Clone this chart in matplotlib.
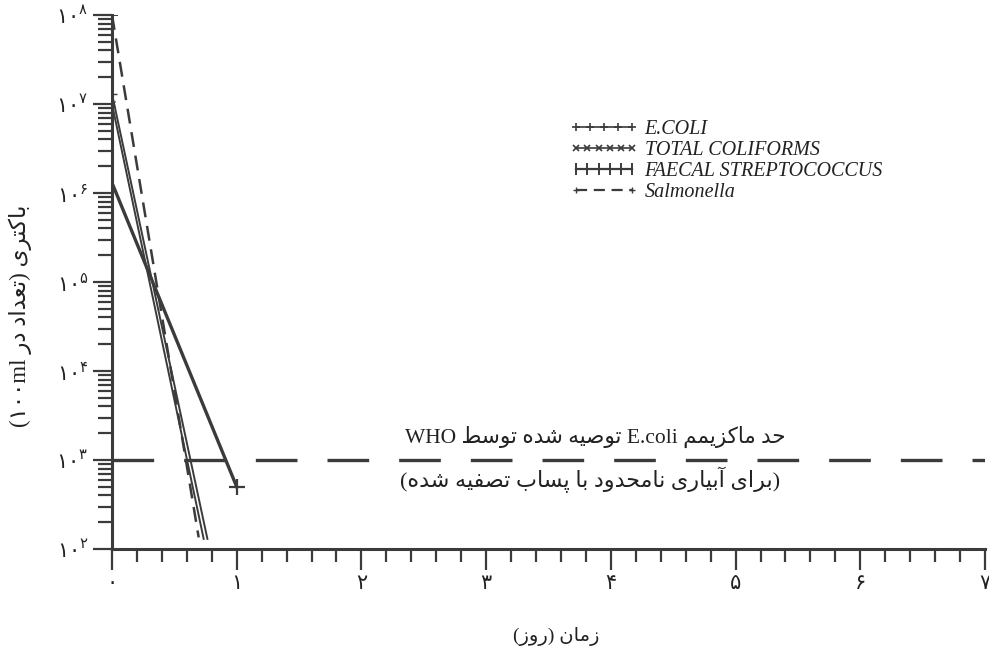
import matplotlib
matplotlib.use('Agg')
import matplotlib.pyplot as plt
from matplotlib.lines import Line2D
from matplotlib.legend_handler import HandlerLine2D
from matplotlib.ticker import LogLocator, MultipleLocator, FixedLocator

# data (days, bacteria per 100 ml)
days_salmonella = [0, 0.695]
salmonella = [1.0e8, 1.35e2]
days_ecoli = [0, 0.765]
ecoli = [1.3e7, 1.3e2]
days_tc = [0, 0.735]
total_coliforms = [1.0e7, 1.3e2]
days_fs = [0, 1.0]
faecal_strep = [1.3e6, 5.0e2]
who_limit = 1e3

x_ticks = [0, 1, 2, 3, 4, 5, 6, 7]
y_decades = [2, 3, 4, 5, 6, 7, 8]
fa_digits = '۰۱۲۳۴۵۶۷۸۹'

# minimal persian shaping (matplotlib has no arabic shaping / bidi)
FORMS = {
    'ا': ('\uFE8D', '\uFE8E', None, None),
    'آ': ('\uFE81', '\uFE82', None, None),
    'ب': ('\uFE8F', '\uFE90', '\uFE91', '\uFE92'),
    'پ': ('\uFB56', '\uFB57', '\uFB58', '\uFB59'),
    'ت': ('\uFE95', '\uFE96', '\uFE97', '\uFE98'),
    'ح': ('\uFEA1', '\uFEA2', '\uFEA3', '\uFEA4'),
    'د': ('\uFEA9', '\uFEAA', None, None),
    'ر': ('\uFEAD', '\uFEAE', None, None),
    'ز': ('\uFEAF', '\uFEB0', None, None),
    'س': ('\uFEB1', '\uFEB2', '\uFEB3', '\uFEB4'),
    'ش': ('\uFEB5', '\uFEB6', '\uFEB7', '\uFEB8'),
    'ص': ('\uFEB9', '\uFEBA', '\uFEBB', '\uFEBC'),
    'ط': ('\uFEC1', '\uFEC2', '\uFEC3', '\uFEC4'),
    'ع': ('\uFEC9', '\uFECA', '\uFECB', '\uFECC'),
    'ف': ('\uFED1', '\uFED2', '\uFED3', '\uFED4'),
    'ک': ('\uFB8E', '\uFB8F', '\uFB90', '\uFB91'),
    'م': ('\uFEE1', '\uFEE2', '\uFEE3', '\uFEE4'),
    'ن': ('\uFEE5', '\uFEE6', '\uFEE7', '\uFEE8'),
    'ه': ('\uFEE9', '\uFEEA', '\uFEEB', '\uFEEC'),
    'و': ('\uFEED', '\uFEEE', None, None),
    'ی': ('\uFBFC', '\uFBFD', '\uFBFE', '\uFBFF'),
}


def shape_word(w):
    out = []
    for i, ch in enumerate(w):
        if ch not in FORMS:
            out.append(ch)
            continue
        f = FORMS[ch]
        prev = w[i - 1] if i > 0 else None
        nxt = w[i + 1] if i < len(w) - 1 else None
        pj = prev in FORMS and FORMS[prev][2] is not None
        nj = nxt in FORMS and f[2] is not None
        if pj and nj:
            out.append(f[3])
        elif pj:
            out.append(f[1])
        elif nj:
            out.append(f[2])
        else:
            out.append(f[0])
    return ''.join(out[::-1])


def fa(text):
    # words of a purely persian phrase, laid out right to left
    return ' '.join(shape_word(w) for w in text.split(' ')[::-1])


def fa_num(n):
    return ''.join(fa_digits[int(c)] for c in str(n))


ink = '#3b3b3b'
fa_font = ['Liberation Serif', 'DejaVu Sans']

fig = plt.figure(figsize=(9.89, 6.54), dpi=100)
ax = fig.add_axes([112 / 989, 1 - 549 / 654, (985 - 112) / 989, (549 - 15) / 654])
ax.set_yscale('log')
ax.set_xlim(0, 7)
ax.set_ylim(1e2, 1e8)

ax.plot(days_salmonella, salmonella, color=ink, lw=1.8, ls=(0, (6, 3.5)),
        marker='+', ms=9, mew=1.4, markevery=[0])
ax.plot(days_ecoli, ecoli, color=ink, lw=1.4, marker='+', ms=7, markevery=[0])
ax.plot(days_tc, total_coliforms, color=ink, lw=1.4, marker='x', ms=5, markevery=[0])
ax.plot(days_fs, faecal_strep, color=ink, lw=2.4, marker='+', ms=12, mew=1.6,
        markevery=[1])
ax.axhline(who_limit, color=ink, lw=2.4, ls=(0, (12.5, 9)))

for s in ['top', 'right']:
    ax.spines[s].set_visible(False)
for s in ['left', 'bottom']:
    ax.spines[s].set_linewidth(2.2)
    ax.spines[s].set_color(ink)
ax.spines['bottom'].set_zorder(5)

ax.xaxis.set_major_locator(FixedLocator(x_ticks))
ax.xaxis.set_minor_locator(MultipleLocator(0.2))
ax.set_xticklabels([fa_num(v) for v in x_ticks], family=fa_font, fontsize=15)
ax.yaxis.set_major_locator(FixedLocator([10.0 ** d for d in y_decades]))
ax.yaxis.set_minor_locator(LogLocator(base=10, subs=range(2, 10)))
ax.set_yticklabels([r'$\mathregular{%s^{%s}}$' % (fa_num(10), fa_num(d)) for d in y_decades],
                   fontsize=15)
ax.tick_params(which='major', axis='x', length=15, width=1.6, color=ink, pad=4,
               labelcolor='#222222')
ax.tick_params(which='minor', axis='x', length=9, width=1.6, color=ink)
ax.tick_params(which='major', axis='y', length=14, width=1.6, color=ink, pad=3,
               labelcolor='#222222')
ax.tick_params(which='minor', axis='y', length=10, width=1.6, color=ink)

# WHO annotation
words1 = 'WHO ' + fa('توصیه شده توسط') + ' E.coli ' + fa('حد ماکزیمم')
ax.text(595 / 989, 1 - 437 / 654, words1, transform=fig.transFigure, ha='center',
        va='center', fontsize=15.5, family=fa_font, color='#222222')
words2 = '(' + fa('برای آبیاری نامحدود با پساب تصفیه شده') + ')'
ax.text(590 / 989, 1 - 480 / 654, words2, transform=fig.transFigure, ha='center',
        va='center', fontsize=16, family=fa_font, color='#222222')

# axis titles
fig.text(556 / 989, 1 - 636 / 654, '(' + fa('روز') + ') ' + fa('زمان'),
         ha='center', va='center', fontsize=14, family=fa_font, color='#222222')
ylab = '(' + fa_num(100) + 'ml ' + fa('تعداد در') + ') ' + fa('باکتری')
fig.text(20 / 989, 1 - 316 / 654, ylab, rotation=90, ha='center', va='center',
         fontsize=16.5, family=fa_font, color='#222222')

# legend
h_ecoli = Line2D([], [], color=ink, lw=1.2, marker='+', ms=6, mew=1.2)
h_tc = Line2D([], [], color=ink, lw=1.2, marker='x', ms=4, mew=1.2)
h_fs = Line2D([], [], color=ink, lw=1.6, marker='|', ms=9, mew=1.4)
h_sal = Line2D([], [], color=ink, lw=1.6, ls=(0, (5, 3)), marker='+', ms=5, mew=1.0)
leg = fig.legend([h_ecoli, h_tc, h_fs, h_sal],
                 ['E.COLI', 'TOTAL COLIFORMS', 'FAECAL STREPTOCOCCUS', 'Salmonella'],
                 handler_map={h_ecoli: HandlerLine2D(numpoints=5),
                              h_tc: HandlerLine2D(numpoints=6),
                              h_fs: HandlerLine2D(numpoints=6),
                              h_sal: HandlerLine2D(numpoints=2)},
                 loc='upper left', bbox_to_anchor=(570 / 989, 1 - 120 / 654),
                 frameon=False, borderpad=0, borderaxespad=0, labelspacing=0.1,
                 handlelength=3.4, handletextpad=0.3,
                 prop={'family': 'Liberation Serif', 'style': 'italic', 'size': 14.5})
for t in leg.get_texts():
    t.set_color('#222222')

fig.savefig('out.png', dpi=100)
